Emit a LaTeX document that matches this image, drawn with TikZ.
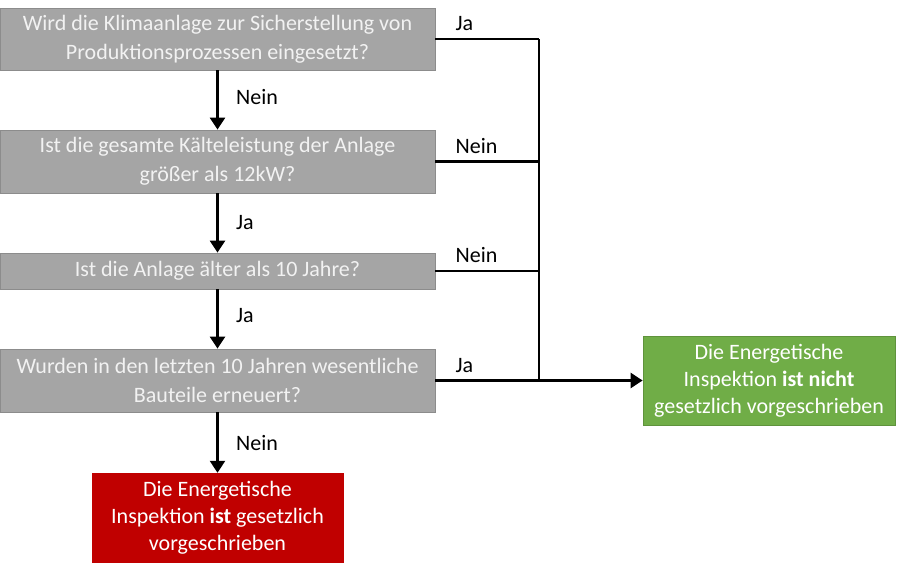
\documentclass[tikz,border=0pt]{standalone}
\usepackage{fontspec}
\setmainfont{Carlito}
\usetikzlibrary{arrows.meta}

\definecolor{boxgray}{HTML}{A5A5A5}
\definecolor{boxedge}{HTML}{8C8C8C}
\definecolor{nogreen}{HTML}{70AD47}
\definecolor{yesred}{HTML}{C00000}

\tikzset{
    frage/.style={draw=boxedge, fill=boxgray, text=white!95!black, align=center,
        minimum width=435pt, line width=0.8pt, inner sep=0pt},
    ergebnis/.style={align=center, text=white, minimum width=252pt, inner sep=0pt,
        font=\fontsize{22}{27}\selectfont},
    pfeil/.style={line width=2.5pt, -{Triangle[length=12pt,width=15pt]}},
    linie/.style={line width=2.5pt},
    antwort/.style={anchor=south west, inner sep=3pt, yshift=5pt}
}

\begin{document}
\begin{tikzpicture}[x=1pt, y=-1pt, font=\fontsize{22}{29}\selectfont]
            \useasboundingbox (0,0) rectangle (900,580);
            % Fragen
            \node[frage, minimum height=62pt] (q1) at (217.5,39)
                {Wird die Klimaanlage zur Sicherstellung von\\Produktionsprozessen eingesetzt?};
            \node[frage, minimum height=63pt] (q2) at (217.5,161.5)
                {Ist die gesamte Kälteleistung der Anlage\\größer als 12kW?};
            \node[frage, minimum height=36pt] (q3) at (217.5,271)
                {Ist die Anlage älter als 10 Jahre?};
            \node[frage, minimum height=63pt] (q4) at (217.5,380.5)
                {Wurden in den letzten 10 Jahren wesentliche\\Bauteile erneuert?};
            % Ergebnisse
            \node[ergebnis, fill=yesred, minimum height=90pt] (pflicht) at (217.5,518)
                {Die Energetische\\Inspektion \textbf{ist} gesetzlich\\vorgeschrieben};
            \node[ergebnis, fill=nogreen, draw=nogreen!85!black, line width=0.8pt,
                minimum height=89pt] (frei) at (769,380.5)
                {Die Energetische\\Inspektion \textbf{ist nicht}\\gesetzlich vorgeschrieben};
            % senkrechte Pfeile
            \draw[pfeil] (q1) -- node[right, xshift=14pt, yshift=3pt] {Nein} (q2);
            \draw[pfeil] (q2) -- node[right, xshift=14pt] {Ja} (q3);
            \draw[pfeil] (q3) -- node[right, xshift=14pt, yshift=3pt] {Ja} (q4);
            \draw[pfeil] (q4) -- node[right, xshift=14pt] {Nein} (pflicht);
            % Sammelleitung rechts
            \coordinate (bus) at (539,39);
            \draw[linie] (q1.east) -- (bus);
            \draw[linie] (q2.east) -- (q2.east -| bus);
            \draw[linie] (q3.east) -- (q3.east -| bus);
            \draw[linie] (bus) -- (bus |- q4.east);
            \draw[pfeil] (q4.east) -- (frei.west);
            \node[antwort] (a1) at ([xshift=17pt]q1.east) {Ja};
            \node[antwort] (a2) at ([xshift=17pt]q2.east) {Nein};
            \node[antwort] (a3) at ([xshift=17pt]q3.east) {Nein};
            \node[antwort] (a4) at ([xshift=17pt]q4.east) {Ja};
\end{tikzpicture}
\end{document}
